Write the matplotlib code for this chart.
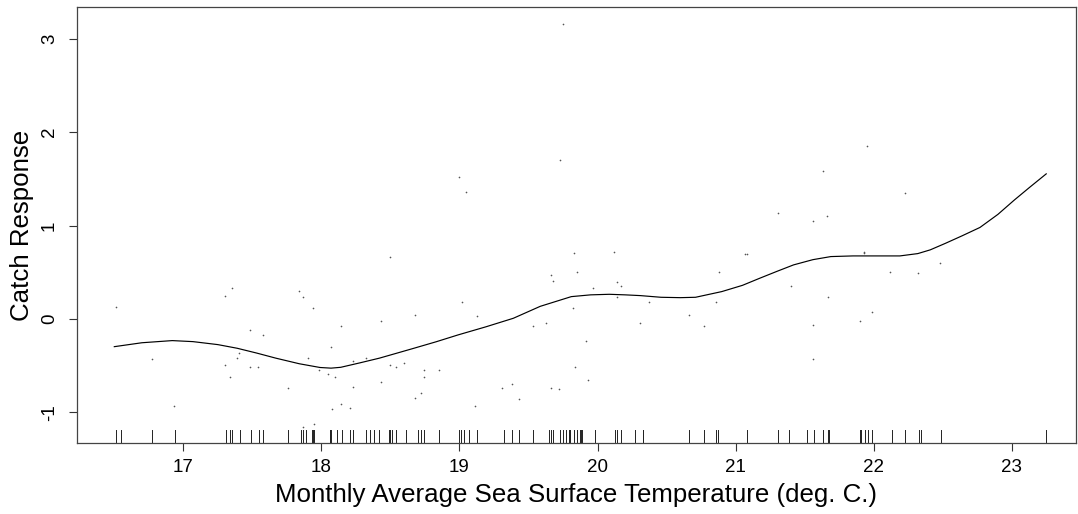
import matplotlib
matplotlib.use("Agg")
import matplotlib.pyplot as plt

plt.rcParams['font.family'] = ['Liberation Sans', 'DejaVu Sans']

# Smoothed partial effect of SST on catch
curve_sst = [16.50, 16.70, 16.92, 17.07, 17.25, 17.39, 17.53, 17.67, 17.84, 17.99,
             18.07, 18.14, 18.28, 18.42, 18.55, 18.67, 18.83, 18.99, 19.19, 19.39, 19.585,
             19.81, 19.95, 20.085, 20.20, 20.31, 20.46, 20.60, 20.71, 20.90, 21.05,
             21.175, 21.30, 21.42, 21.56, 21.69, 21.85, 22.00, 22.19, 22.32, 22.41,
             22.52, 22.64, 22.77, 22.90, 23.02, 23.13, 23.25]
curve_resp = [-0.297, -0.255, -0.232, -0.243, -0.275, -0.314, -0.365, -0.42, -0.48, -0.52,
              -0.527, -0.518, -0.47, -0.42, -0.365, -0.314, -0.245, -0.171, -0.085, 0.007, 0.135,
              0.239, 0.258, 0.264, 0.258, 0.25, 0.232, 0.228, 0.232, 0.293, 0.36,
              0.436, 0.51, 0.579, 0.635, 0.668, 0.675, 0.675, 0.675, 0.70, 0.74,
              0.81, 0.89, 0.98, 1.12, 1.275, 1.41, 1.554]

# Partial residuals
resid_sst = [19.00, 19.05, 18.50, 19.75, 19.73, 21.95, 21.63, 22.23, 21.31, 21.56,
             21.66, 19.83, 20.12, 21.07, 21.93, 16.51, 16.77, 16.93, 17.30, 17.35,
             17.48, 17.58, 17.30, 17.39, 17.40, 17.34, 17.48, 17.54, 17.755, 17.84,
             17.87, 17.94, 17.90, 18.07, 17.98, 18.05, 18.10, 18.14, 18.23, 18.14,
             18.08, 18.21, 17.87, 17.95, 18.23, 18.32, 18.43, 18.43, 18.50, 18.54,
             18.60, 18.68, 18.68, 18.72, 18.74, 18.74, 18.85, 19.02, 19.13, 19.11,
             19.31, 19.38, 19.43, 19.53, 19.66, 19.68, 19.85, 19.63, 19.82, 19.97,
             20.14, 20.17, 20.14, 20.37, 20.31, 19.92, 19.84, 19.93, 19.66, 19.72,
             20.66, 20.77, 20.86, 20.88, 21.08, 21.40, 21.67, 21.56, 21.56, 21.90,
             21.99, 22.12, 22.32, 22.48, 21.93]
resid_resp = [1.525, 1.364, 0.66, 3.16, 1.70, 1.85, 1.58, 1.35, 1.13, 1.05,
              1.10, 0.71, 0.72, 0.70, 0.71, 0.125, -0.43, -0.93, 0.25, 0.33,
              -0.118, -0.17, -0.49, -0.42, -0.37, -0.625, -0.52, -0.52, -0.74, 0.30,
              0.23, 0.115, -0.42, -0.30, -0.55, -0.59, -0.625, -0.075, -0.73, -0.91,
              -0.965, -0.95, -1.16, -1.125, -0.447, -0.42, -0.02, -0.68, -0.49, -0.52,
              -0.475, 0.04, -0.85, -0.79, -0.55, -0.62, -0.55, 0.185, 0.03, -0.93,
              -0.74, -0.70, -0.86, -0.075, 0.47, 0.41, 0.50, -0.047, 0.115, 0.33,
              0.40, 0.354, 0.23, 0.185, -0.04, -0.24, -0.52, -0.65, -0.74, -0.75,
              0.043, -0.08, 0.185, 0.50, 0.70, 0.35, 0.23, -0.07, -0.43, -0.02,
              0.07, 0.50, 0.49, 0.60, 0.72]

# Observed SST values (rug)
rug_sst = [16.51, 16.55, 16.77, 16.94, 17.31, 17.34, 17.35, 17.41, 17.49, 17.55,
           17.58, 17.76, 17.85, 17.87, 17.89, 17.93, 17.94, 17.95, 18.06, 18.06,
           18.07, 18.11, 18.15, 18.21, 18.23, 18.32, 18.35, 18.38, 18.42, 18.49,
           18.50, 18.51, 18.54, 18.61, 18.70, 18.72, 18.74, 18.85, 19.00, 19.01,
           19.03, 19.07, 19.13, 19.32, 19.38, 19.43, 19.53, 19.65, 19.66, 19.68,
           19.73, 19.75, 19.77, 19.79, 19.80, 19.83, 19.85, 19.87, 19.88, 19.89,
           19.98, 20.13, 20.14, 20.17, 20.27, 20.33, 20.33, 20.66, 20.77, 20.86,
           20.87, 21.08, 21.31, 21.39, 21.52, 21.57, 21.63, 21.67, 21.68, 21.90,
           21.91, 21.94, 21.96, 21.99, 22.13, 22.23, 22.33, 22.34, 22.49, 23.25]

x_ticks = [17, 18, 19, 20, 21, 22, 23]
y_ticks = [-1, 0, 1, 2, 3]

W, H = 1078, 514
fig = plt.figure(figsize=(W / 100, H / 100), dpi=100)
left, right, top, bottom = 77.3, 1075.5, 7.3, 443.3
ax = fig.add_axes([left / W, 1 - bottom / H, (right - left) / W, (bottom - top) / H])

ax.plot(curve_sst, curve_resp, color='black', lw=0.85)
ax.plot(resid_sst, resid_resp, ls='none', marker='o', ms=1.2, mec='none',
        mfc='#555555')
for xv in rug_sst:
    ax.axvline(xv, ymin=0, ymax=0.03, color='#222222', lw=0.7)

ax.set_xlim(16.232, 23.462)
ax.set_ylim(-1.332, 3.338)
ax.set_xticks(x_ticks)
ax.set_yticks(y_ticks)
ax.set_xticklabels([str(v) for v in x_ticks], fontsize=13.5)
ax.set_yticklabels([str(v) for v in y_ticks], fontsize=13.5, rotation=90, va='center')
ax.tick_params(axis='both', direction='out', length=6, width=0.8, color='#333333')
ax.tick_params(axis='x', pad=5)
ax.tick_params(axis='y', pad=8)
for s in ax.spines.values():
    s.set_color('#444444')
    s.set_linewidth(0.9)

ax.set_xlabel('Monthly Average Sea Surface Temperature (deg. C.)', fontsize=18.6,
              labelpad=5)
ax.set_ylabel('Catch Response', fontsize=18.6, labelpad=5)

fig.savefig('out.png', dpi=100)
